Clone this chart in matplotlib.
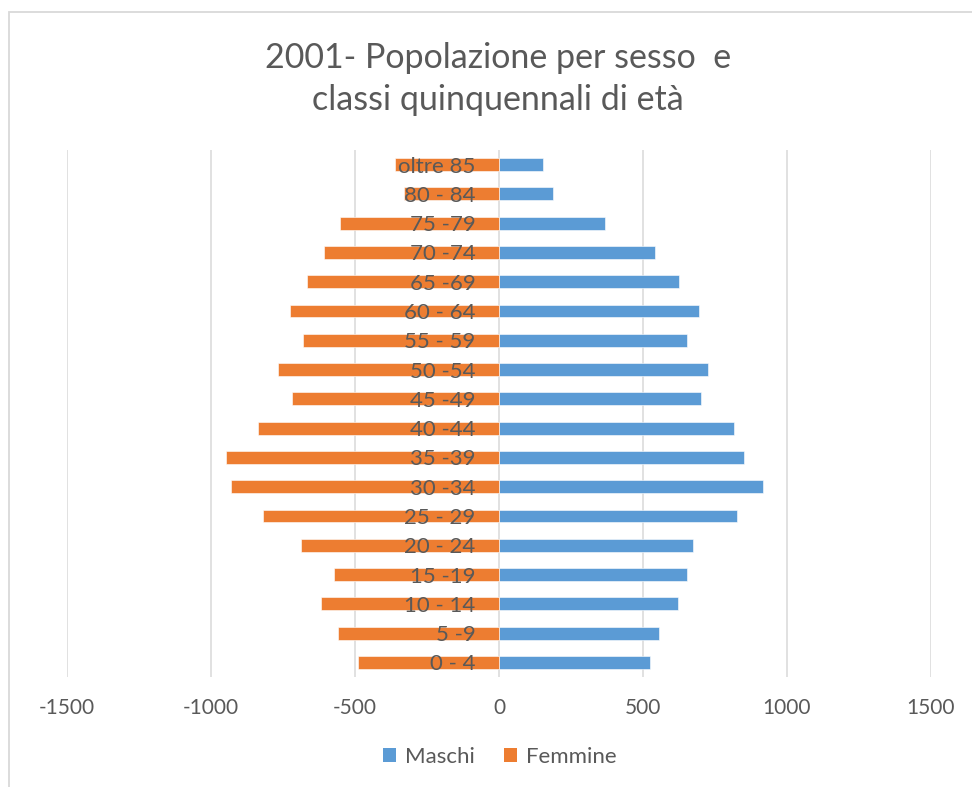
import matplotlib
matplotlib.use("Agg")
import matplotlib.pyplot as plt
from matplotlib.patches import Rectangle, Patch

plt.rcParams['font.family'] = ['Lato', 'DejaVu Sans']

categories = ["0 - 4", "5 -9", "10 - 14", "15 -19", "20 - 24", "25 - 29", "30 -34",
              "35 -39", "40 -44", "45 -49", "50 -54", "55 - 59", "60 - 64", "65 -69",
              "70 -74", "75 -79", "80 - 84", "oltre 85"]
maschi = [526, 554, 621, 652, 675, 828, 918, 851, 815, 703, 725, 652, 693, 625,
          540, 367, 186, 154]
femmine = [-491, -558, -617, -572, -686, -821, -929, -947, -838, -720, -767, -680,
           -726, -667, -608, -553, -329, -360]
xticks = [-1500, -1000, -500, 0, 500, 1000, 1500]
title = "2001- Popolazione per sesso  e\nclassi quinquennali di età"

BLUE = "#5B9BD5"
ORANGE = "#ED7D31"
GREY = "#595959"

W, H = 972, 787
fig = plt.figure(figsize=(W / 100, H / 100), dpi=100)

# chart border
fig.patches.append(Rectangle((9 / W, -0.05), 1.2, 1 - 12 / H + 0.05,
                             transform=fig.transFigure, fill=False,
                             edgecolor="#d9d9d9", linewidth=1.3))

ax = fig.add_axes([67 / W, 1 - 677 / H, (931 - 67) / W, (677 - 150) / H])
ypos = list(range(len(categories)))
ax.barh(ypos, maschi, height=0.44, color=BLUE, edgecolor="white", linewidth=0.4, zorder=2)
ax.barh(ypos, femmine, height=0.44, color=ORANGE, edgecolor="white", linewidth=0.4, zorder=2)

ax.set_xlim(-1500, 1500)
ax.set_ylim(-0.5, len(categories) - 0.5)
ax.set_xticks(xticks)
ax.set_xticklabels([str(v) for v in xticks])
ax.tick_params(axis='x', length=0, pad=15, labelsize=15, labelcolor=GREY)
ax.grid(axis='x', color="#d9d9d9", linewidth=1.1)
ax.xaxis.set_zorder(0.5)

ax.spines['left'].set_position(('data', 0))
ax.set_yticks(ypos)
ax.set_yticklabels(categories)
ax.tick_params(axis='y', length=0, pad=17, labelsize=16, labelcolor=GREY)
ax.yaxis.set_zorder(3)
for s in ax.spines.values():
    s.set_visible(False)

fig.text(498 / W, 1 - 79 / H, title, ha='center', va='center', fontsize=24.5,
         color=GREY, linespacing=1.4)

handles = [Patch(facecolor=BLUE, label="Maschi"), Patch(facecolor=ORANGE, label="Femmine")]
fig.legend(handles=handles, loc='center', bbox_to_anchor=(500 / W, 1 - 757 / H),
           ncol=2, frameon=False, fontsize=16, labelcolor=GREY,
           handlelength=0.6, handleheight=0.6, handletextpad=0.4, columnspacing=1.3)

fig.savefig("out.png", dpi=100, facecolor="white")
